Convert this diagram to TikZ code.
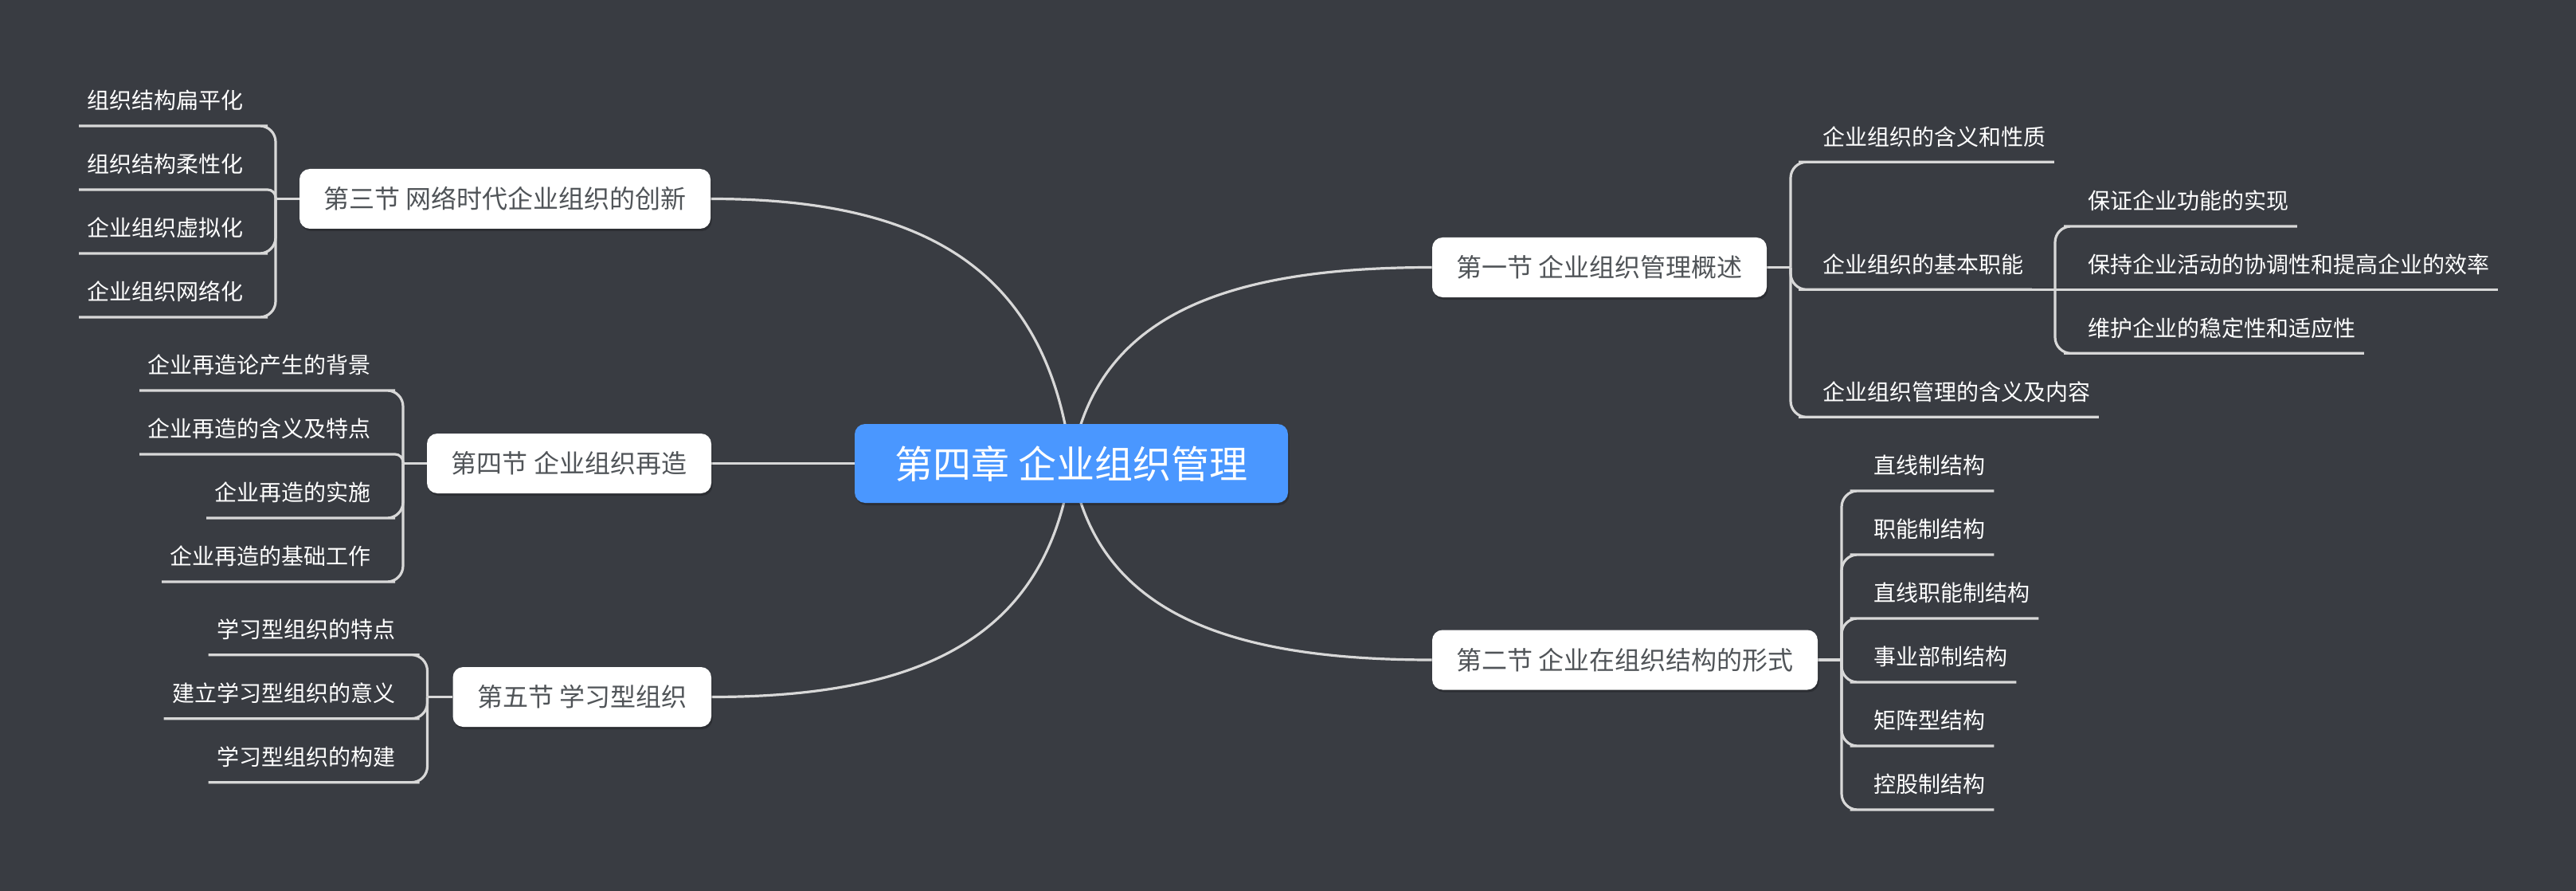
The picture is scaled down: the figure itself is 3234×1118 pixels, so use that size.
\documentclass[tikz,border=0pt]{standalone}
\usepackage{fontspec}
\newfontfamily\cjk{Noto Sans CJK SC}
\usetikzlibrary{shadows}
\pgfdeclarelayer{bg}
\pgfdeclarelayer{lines}
\pgfsetlayers{bg,lines,main}
\definecolor{bgc}{RGB}{57,60,66}
\definecolor{linec}{RGB}{216,216,216}
\definecolor{rootc}{RGB}{74,151,255}
\definecolor{sectext}{RGB}{80,84,88}
\tikzset{
  boxshadow/.style={general shadow={fill=black, opacity=0.22, shadow xshift=0.8pt, shadow yshift=-1.5pt}},
  rootbox/.style={fill=rootc, rounded corners=6.5pt, minimum width=272pt, minimum height=49.5pt,
    inner sep=0pt, font=\cjk\fontsize{24pt}{28pt}\selectfont, text=white, boxshadow},
  secbox/.style={fill=white, rounded corners=6.5pt, minimum height=37.5pt, inner xsep=15pt,
    inner ysep=0pt, font=\cjk\fontsize{16pt}{19pt}\selectfont, text=sectext, boxshadow},
  leaf/.style={inner xsep=5pt, inner ysep=0pt, minimum height=31.5pt,
    font=\cjk\fontsize{14pt}{17pt}\selectfont, text=white},
  conn/.style={draw=linec, line width=1.6pt},
  elbow/.style={conn, rounded corners=10pt},
  elbowshort/.style={conn, rounded corners=5pt},
}
\begin{document}
\begin{tikzpicture}[x=0.5pt, y=-0.5pt]
\useasboundingbox (0,0) rectangle (3234,1118);
\begin{pgfonlayer}{bg}
\fill[bgc] (0,0) rectangle (3234,1118);
\end{pgfonlayer}

% root
\node[rootbox] (root) at (1345,581.5) {第四章 企业组织管理};

% sections
\node[secbox, minimum width=258pt] (s3) at (634,249.5) {第三节 网络时代企业组织的创新};
\node[secbox, minimum width=178.5pt] (s4) at (714.5,581.5) {第四节 企业组织再造};
\node[secbox, minimum width=162.25pt] (s5) at (730.75,874.5) {第五节 学习型组织};
\node[secbox, minimum width=210pt] (s1) at (2008,335.5) {第一节 企业组织管理概述};
\node[secbox, minimum width=242pt] (s2) at (2040,828) {第二节 企业在组织结构的形式};

% section 3 leaves
\node[leaf, anchor=south east] (s3a) at (316,158) {组织结构扁平化};
\node[leaf, anchor=south east] (s3b) at (316,238) {组织结构柔性化};
\node[leaf, anchor=south east] (s3c) at (316,318) {企业组织虚拟化};
\node[leaf, anchor=south east] (s3d) at (316,398) {企业组织网络化};

% section 4 leaves
\node[leaf, anchor=south east] (s4a) at (476,490) {企业再造论产生的背景};
\node[leaf, anchor=south east] (s4b) at (476,570) {企业再造的含义及特点};
\node[leaf, anchor=south east] (s4c) at (476,650) {企业再造的实施};
\node[leaf, anchor=south east] (s4d) at (476,730) {企业再造的基础工作};

% section 5 leaves
\node[leaf, anchor=south east] (s5a) at (506.5,821.7) {学习型组织的特点};
\node[leaf, anchor=south east] (s5b) at (506.5,901.7) {建立学习型组织的意义};
\node[leaf, anchor=south east] (s5c) at (506.5,981.7) {学习型组织的构建};

% section 1 leaves
\node[leaf, anchor=south west] (s1a) at (2278,203.3) {企业组织的含义和性质};
\node[leaf, anchor=south west] (s1b) at (2278,363.3) {企业组织的基本职能};
\node[leaf, anchor=south west] (s1c) at (2278,523.3) {企业组织管理的含义及内容};

% sub leaves
\node[leaf, anchor=south west] (s1ba) at (2611,284) {保证企业功能的实现};
\node[leaf, anchor=south west] (s1bb) at (2611,363.3) {保持企业活动的协调性和提高企业的效率};
\node[leaf, anchor=south west] (s1bc) at (2611,443.3) {维护企业的稳定性和适应性};

% section 2 leaves
\node[leaf, anchor=south west] (s2a) at (2342.5,616) {直线制结构};
\node[leaf, anchor=south west] (s2b) at (2342.5,696) {职能制结构};
\node[leaf, anchor=south west] (s2c) at (2342.5,776) {直线职能制结构};
\node[leaf, anchor=south west] (s2d) at (2342.5,856) {事业部制结构};
\node[leaf, anchor=south west] (s2e) at (2342.5,936) {矩阵型结构};
\node[leaf, anchor=south west] (s2f) at (2342.5,1016) {控股制结构};

% junctions
\coordinate (j3) at (346,249.5);
\coordinate (j4) at (506,581.5);
\coordinate (j5) at (536.5,874.5);
\coordinate (j1) at (2248,335.5);
\coordinate (j1b) at (2580,363.3);
\coordinate (j2) at (2312,828);

\begin{pgfonlayer}{lines}
% root to sections
\draw[conn] (root.center) .. controls (1315,329.5) and (1150,249.5) .. (s3.east);
\draw[conn] (root.center) -- (s4.east);
\draw[conn] (root.center) .. controls (1315,804.5) and (1150,874.5) .. (s5.east);
\draw[conn] (root.center) .. controls (1375,394.5) and (1540,335.5) .. (s1.west);
\draw[conn] (root.center) .. controls (1375,768.5) and (1540,828) .. (s2.west);

% section 3
\draw[conn] (s3.west) -- (j3);
\draw[elbow] (j3) |- (s3a.south east) -- (s3a.south west);
\draw[elbowshort] (j3) |- (s3b.south east) -- (s3b.south west);
\draw[elbow] (j3) |- (s3c.south east) -- (s3c.south west);
\draw[elbow] (j3) |- (s3d.south east) -- (s3d.south west);

% section 4
\draw[conn] (s4.west) -- (j4);
\draw[elbow] (j4) |- (s4a.south east) -- (s4a.south west);
\draw[elbowshort] (j4) |- (s4b.south east) -- (s4b.south west);
\draw[elbow] (j4) |- (s4c.south east) -- (s4c.south west);
\draw[elbow] (j4) |- (s4d.south east) -- (s4d.south west);

% section 5
\draw[conn] (s5.west) -- (j5);
\draw[elbow] (j5) |- (s5a.south east) -- (s5a.south west);
\draw[elbow] (j5) |- (s5b.south east) -- (s5b.south west);
\draw[elbow] (j5) |- (s5c.south east) -- (s5c.south west);

% section 1
\draw[conn] (s1.east) -- (j1);
\draw[elbow] (j1) |- (s1a.south west) -- (s1a.south east);
\draw[elbow] (j1) |- (s1b.south west) -- (s1b.south east);
\draw[elbow] (j1) |- (s1c.south west) -- (s1c.south east);
\draw[conn] (s1b.south east) -- (j1b);
\draw[elbow] (j1b) |- (s1ba.south west) -- (s1ba.south east);
\draw[conn] (j1b) -- (s1bb.south west) -- (s1bb.south east);
\draw[elbow] (j1b) |- (s1bc.south west) -- (s1bc.south east);

% section 2
\draw[conn] (s2.east) -- (j2);
\draw[elbow] (j2) |- (s2a.south west) -- (s2a.south east);
\draw[elbow] (j2) |- (s2b.south west) -- (s2b.south east);
\draw[elbow] (j2) |- (s2c.south west) -- (s2c.south east);
\draw[elbow] (j2) |- (s2d.south west) -- (s2d.south east);
\draw[elbow] (j2) |- (s2e.south west) -- (s2e.south east);
\draw[elbow] (j2) |- (s2f.south west) -- (s2f.south east);
\end{pgfonlayer}
\end{tikzpicture}
\end{document}
